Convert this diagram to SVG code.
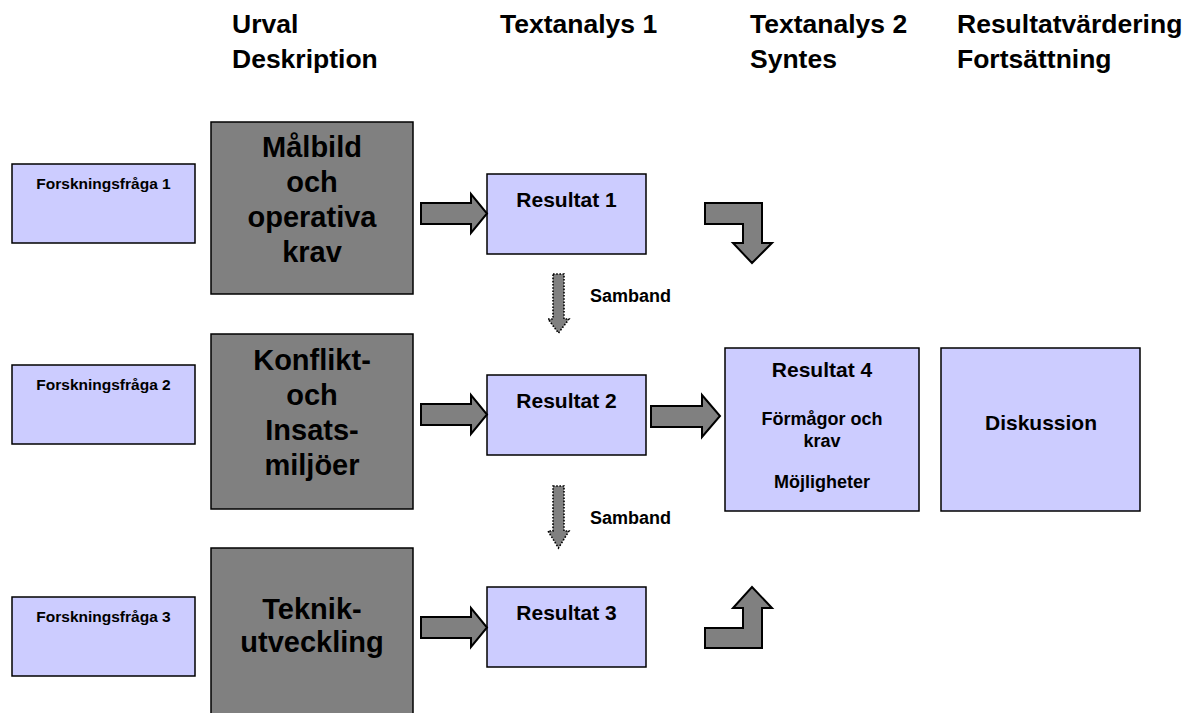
<svg xmlns="http://www.w3.org/2000/svg" width="1183" height="713" viewBox="0 0 1183 713">
<style>
text{font-family:"Liberation Sans",Arial,sans-serif;font-weight:bold;fill:#000}
.hdr{font-size:26.5px}
.gray{fill:#808080;stroke:#000;stroke-width:1.5}
.lav{fill:#CCCCFF;stroke:#000;stroke-width:1.5}
.big{font-size:29px;text-anchor:middle}
.res{font-size:21px;text-anchor:middle}
.fq{font-size:15.5px;text-anchor:middle}
.sm{font-size:18px;text-anchor:middle}
.arr{fill:#808080;stroke:#000;stroke-width:2;stroke-linejoin:miter}
.dot{fill:#808080;stroke:#000;stroke-width:1.6;stroke-dasharray:1.6 1.6}
</style>
<rect width="1183" height="713" fill="#fff"/>
<g id="headers">
<text class="hdr" x="232" y="33">Urval</text>
<text class="hdr" x="232" y="68">Deskription</text>
<text class="hdr" x="500" y="33">Textanalys 1</text>
<text class="hdr" x="750" y="33">Textanalys 2</text>
<text class="hdr" x="750" y="68">Syntes</text>
<text class="hdr" x="957" y="33">Resultatvärdering</text>
<text class="hdr" x="957" y="68">Fortsättning</text>
</g>
<g id="fq1"><rect class="lav" x="12" y="164" width="183" height="79"/><text class="fq" x="103.5" y="189">Forskningsfråga 1</text></g>
<g id="fq2"><rect class="lav" x="12" y="365" width="183" height="79"/><text class="fq" x="103.5" y="390">Forskningsfråga 2</text></g>
<g id="fq3"><rect class="lav" x="12" y="597" width="183" height="79"/><text class="fq" x="103.5" y="622">Forskningsfråga 3</text></g>
<g id="malbild"><rect class="gray" x="211" y="122" width="202" height="172"/>
<text class="big" x="312" y="157">Målbild</text><text class="big" x="312" y="192">och</text><text class="big" x="312" y="227">operativa</text><text class="big" x="312" y="262">krav</text></g>
<g id="konflikt"><rect class="gray" x="211" y="334" width="202" height="175"/>
<text class="big" x="312" y="370">Konflikt-</text><text class="big" x="312" y="405">och</text><text class="big" x="312" y="440">Insats-</text><text class="big" x="312" y="475">miljöer</text></g>
<g id="teknik"><rect class="gray" x="211" y="548" width="202" height="175"/>
<text class="big" x="312" y="619">Teknik-</text><text class="big" x="312" y="652">utveckling</text></g>
<g id="res1"><rect class="lav" x="487" y="174" width="159" height="80"/><text class="res" x="566.5" y="207">Resultat 1</text></g>
<g id="res2"><rect class="lav" x="487" y="375" width="159" height="80"/><text class="res" x="566.5" y="408">Resultat 2</text></g>
<g id="res3"><rect class="lav" x="487" y="587" width="159" height="80"/><text class="res" x="566.5" y="620">Resultat 3</text></g>
<g id="res4"><rect class="lav" x="725" y="348" width="194" height="163"/>
<text class="res" x="822" y="377">Resultat 4</text>
<text class="sm" x="822" y="425">Förmågor och</text>
<text class="sm" x="822" y="447">krav</text>
<text class="sm" x="822" y="488">Möjligheter</text></g>
<g id="disk"><rect class="lav" x="941" y="348" width="199" height="163"/><text class="res" x="1041" y="430">Diskussion</text></g>
<g id="connectors">
<path class="arr" d="M421,203 H471 V194 L487,213.5 L471,233 V224 H421 Z"/>
<path class="arr" d="M421,404 H471 V395 L487,414.5 L471,434 V425 H421 Z"/>
<path class="arr" d="M421,617 H471 V608 L487,627.5 L471,647 V638 H421 Z"/>
<path class="arr" d="M651,406 H702 V395 L720,416 L702,437 V427 H651 Z"/>
<path class="arr" d="M705,203 H762 V243 H772 L752,263 L733,243 H743 V224 H705 Z"/>
<path class="arr" d="M705,648 H762 V608 H772 L752,587 L733,608 H743 V628 H705 Z"/>
<path class="dot" d="M553,274 H564 V319 H569 L558.5,333 L548,319 H553 Z"/>
<path class="dot" d="M553,486 H564 V531 H569 L558.5,548 L548,531 H553 Z"/>
<text class="sm" style="text-anchor:start" x="590" y="302">Samband</text>
<text class="sm" style="text-anchor:start" x="590" y="524">Samband</text>
</g>
</svg>
